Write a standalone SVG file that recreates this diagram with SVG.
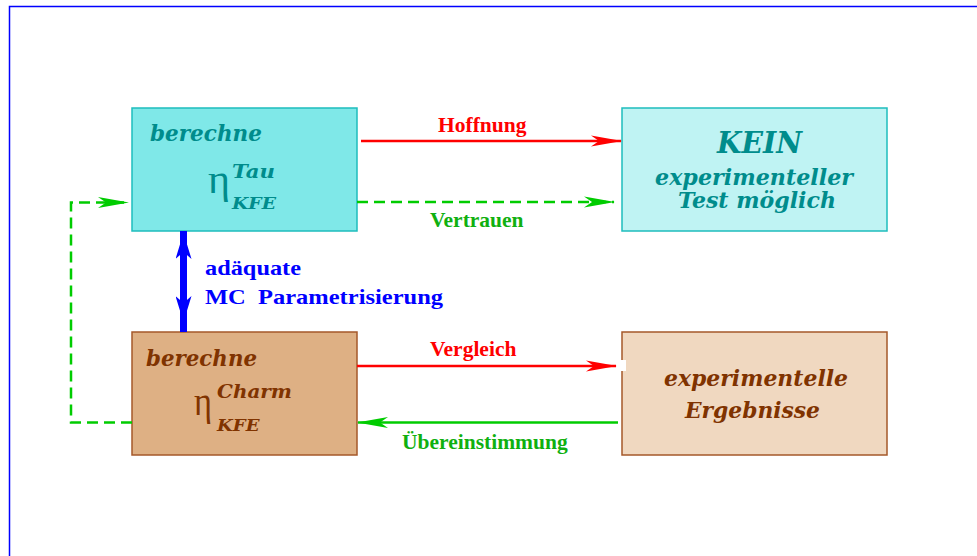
<svg xmlns="http://www.w3.org/2000/svg" width="977" height="556" viewBox="0 0 977 556">
  <style>
    .frame { fill: none; stroke: #0000FF; stroke-width: 1.5; }
    .box { stroke-width: 1.5; }
    .tau { fill: #7FE8E8; stroke: #1EBDBD; }
    .none { fill: #BFF3F3; stroke: #1EBDBD; }
    .charm { fill: #DEB084; stroke: #A5582A; }
    .expt { fill: #F0D8C0; stroke: #A5582A; }
    .bi { font-family: "DejaVu Serif", "Liberation Serif", serif; font-weight: bold; font-style: italic; }
    .eta { font-family: "Liberation Serif", "DejaVu Serif", serif; font-size: 40px; }
    .teal { fill: #008C8C; }
    .brown { fill: #803300; }
    .lbl { font-family: "Liberation Serif", "Times New Roman", serif; font-weight: bold; font-size: 21.5px; }
    .red { stroke: #FF0000; stroke-width: 2.5; fill: none; }
    .green { stroke: #00CC00; stroke-width: 2.5; fill: none; }
    .dash { stroke-dasharray: 11 6; }
    .blue { stroke: #0000FF; stroke-width: 7; fill: none; }
  </style>
  <defs>
    <marker id="headRed" markerUnits="userSpaceOnUse" viewBox="0 0 31 12" markerWidth="31" markerHeight="12" refX="30" refY="6" orient="auto">
      <path d="M0,0.5 L31,6 L0,11.5 L8,6 Z" fill="#FF0000"/>
    </marker>
    <marker id="headGreen" markerUnits="userSpaceOnUse" viewBox="0 0 31 12" markerWidth="31" markerHeight="12" refX="30" refY="6" orient="auto">
      <path d="M0,0.5 L31,6 L0,11.5 L8,6 Z" fill="#00CC00"/>
    </marker>
    <marker id="headBlueStart" markerUnits="userSpaceOnUse" viewBox="0 0 26 16" markerWidth="26" markerHeight="16" refX="28" refY="8" orient="auto-start-reverse">
      <path d="M0,0 L26,8 L0,16 L7,8 Z" fill="#0000FF"/>
    </marker>
    <marker id="headBlueEnd" markerUnits="userSpaceOnUse" viewBox="0 0 26 16" markerWidth="26" markerHeight="16" refX="36" refY="8" orient="auto">
      <path d="M0,0 L26,8 L0,16 L7,8 Z" fill="#0000FF"/>
    </marker>
  </defs>

  <!-- page frame -->
  <path class="frame" d="M9.5,556 V6.5 H977"/>

  <!-- nodes -->
  <g id="tau-calc">
    <rect class="box tau" x="132" y="108" width="225" height="123"/>
    <text class="bi teal" x="150" y="140.5" font-size="21.5" textLength="112" lengthAdjust="spacingAndGlyphs">berechne</text>
    <text class="eta teal" x="208" y="192.5" textLength="22" lengthAdjust="spacingAndGlyphs">η</text>
    <text class="bi teal" x="232" y="178" font-size="18" textLength="43" lengthAdjust="spacingAndGlyphs">Tau</text>
    <text class="bi teal" x="232" y="209" font-size="17.5" textLength="44" lengthAdjust="spacingAndGlyphs">KFE</text>
  </g>

  <g id="no-test">
    <rect class="box none" x="622" y="108" width="265" height="123"/>
    <text class="bi teal" x="717" y="153" font-size="29" textLength="85" lengthAdjust="spacingAndGlyphs">KEIN</text>
    <text class="bi teal" x="655" y="184.5" font-size="22" textLength="198" lengthAdjust="spacingAndGlyphs">experimenteller</text>
    <text class="bi teal" x="678" y="208" font-size="22" textLength="158" lengthAdjust="spacingAndGlyphs">Test möglich</text>
  </g>

  <g id="charm-calc">
    <rect class="box charm" x="132" y="332" width="225" height="123"/>
    <text class="bi brown" x="146" y="365.5" font-size="21.5" textLength="111" lengthAdjust="spacingAndGlyphs">berechne</text>
    <text class="eta brown" x="194" y="415" textLength="18" lengthAdjust="spacingAndGlyphs">η</text>
    <text class="bi brown" x="217" y="397.5" font-size="18" textLength="75" lengthAdjust="spacingAndGlyphs">Charm</text>
    <text class="bi brown" x="217" y="431" font-size="17.5" textLength="42.5" lengthAdjust="spacingAndGlyphs">KFE</text>
  </g>

  <g id="experiment">
    <rect class="box expt" x="622" y="332" width="265" height="123"/>
    <rect x="614" y="360" width="12" height="11" fill="#FFFFFF"/>
    <text class="bi brown" x="664" y="385.5" font-size="22" textLength="184" lengthAdjust="spacingAndGlyphs">experimentelle</text>
    <text class="bi brown" x="685" y="418" font-size="22" textLength="135" lengthAdjust="spacingAndGlyphs">Ergebnisse</text>
  </g>

  <!-- connectors -->
  <g id="connectors">
    <path class="red" d="M361,141 H621" marker-end="url(#headRed)"/>
    <text class="lbl" fill="#FF0000" x="438" y="132">Hoffnung</text>

    <path class="green dash" d="M357,202 H614" marker-end="url(#headGreen)"/>
    <text class="lbl" fill="#10B010" x="430" y="227">Vertrauen</text>

    <path class="green dash" d="M132,422.5 H71 V202.5 H128" marker-end="url(#headGreen)"/>

    <path class="blue" d="M183.5,231 V332" marker-start="url(#headBlueStart)" marker-end="url(#headBlueEnd)"/>
    <text class="lbl" fill="#0000FF" font-size="26.5" x="205" y="275" textLength="96" lengthAdjust="spacingAndGlyphs">adäquate</text>
    <text class="lbl" fill="#0000FF" font-size="26.5" x="205" y="303.5" xml:space="preserve" textLength="238" lengthAdjust="spacingAndGlyphs">MC  Parametrisierung</text>

    <path class="red" d="M357,366 H616" marker-end="url(#headRed)"/>
    <text class="lbl" fill="#FF0000" x="430" y="356">Vergleich</text>

    <path class="green" d="M618,422.5 H358" marker-end="url(#headGreen)"/>
    <text class="lbl" fill="#10B010" x="402" y="448.5">Übereinstimmung</text>
  </g>
</svg>
